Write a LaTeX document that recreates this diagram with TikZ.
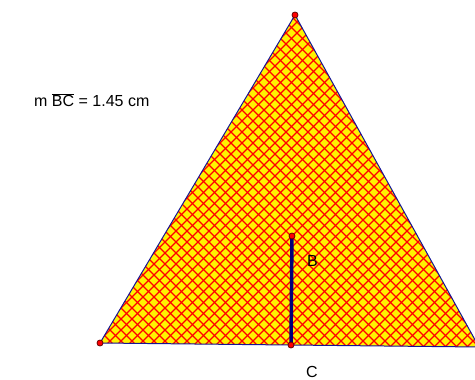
\documentclass[tikz,border=0pt]{standalone}
\usepackage{fontspec}
\setmainfont{Liberation Sans}
\definecolor{edgeblue}{RGB}{20,20,150}
\definecolor{segblue}{RGB}{0,0,120}
\begin{document}
\begin{tikzpicture}[x=1pt,y=-1pt,
    pt/.style={fill=red, draw=black!60!red, line width=0.8pt},
    lbl/.style={font=\fontsize{16}{18}\selectfont, inner sep=0pt}]
    \useasboundingbox (0,0) rectangle (475,380);

    % 三角形顶点
    \coordinate (A) at (295,15);
    \coordinate (L) at (100,343);
    \coordinate (R) at (479,347);
    \coordinate (B) at (292,236);
    \coordinate (C) at (291,345);

    % 填充与网格
    \begin{scope}
        \clip (A) -- (L) -- (R) -- cycle;
        \fill[yellow] (A) -- (L) -- (R) -- cycle;
        \foreach \c in {88,99,...,840}
            \draw[red, line width=1.1pt] (\c+10,-10) -- (\c-400,400);
        \foreach \c in {-264,-253,...,300}
            \draw[red, line width=1.1pt] (\c-10,-10) -- (\c+400,400);
    \end{scope}
    \draw[edgeblue, line width=1pt] (A) -- (L) -- (R) -- cycle;

    % 线段 BC
    \draw[segblue, line width=3.5pt] (B) -- (C);

    % 点
    \foreach \p in {A,L,B,C}
        \fill[pt] (\p) circle (3);

    % 标注
    \node[lbl, anchor=west] (bl) at (307,261) {B};
    \node[lbl, anchor=west] (cl) at (306,372) {C};
    \node[lbl, anchor=west] (meas) at (34,100) {m $\overline{\hbox{BC}}$ = 1.45 cm};
\end{tikzpicture}
\end{document}
